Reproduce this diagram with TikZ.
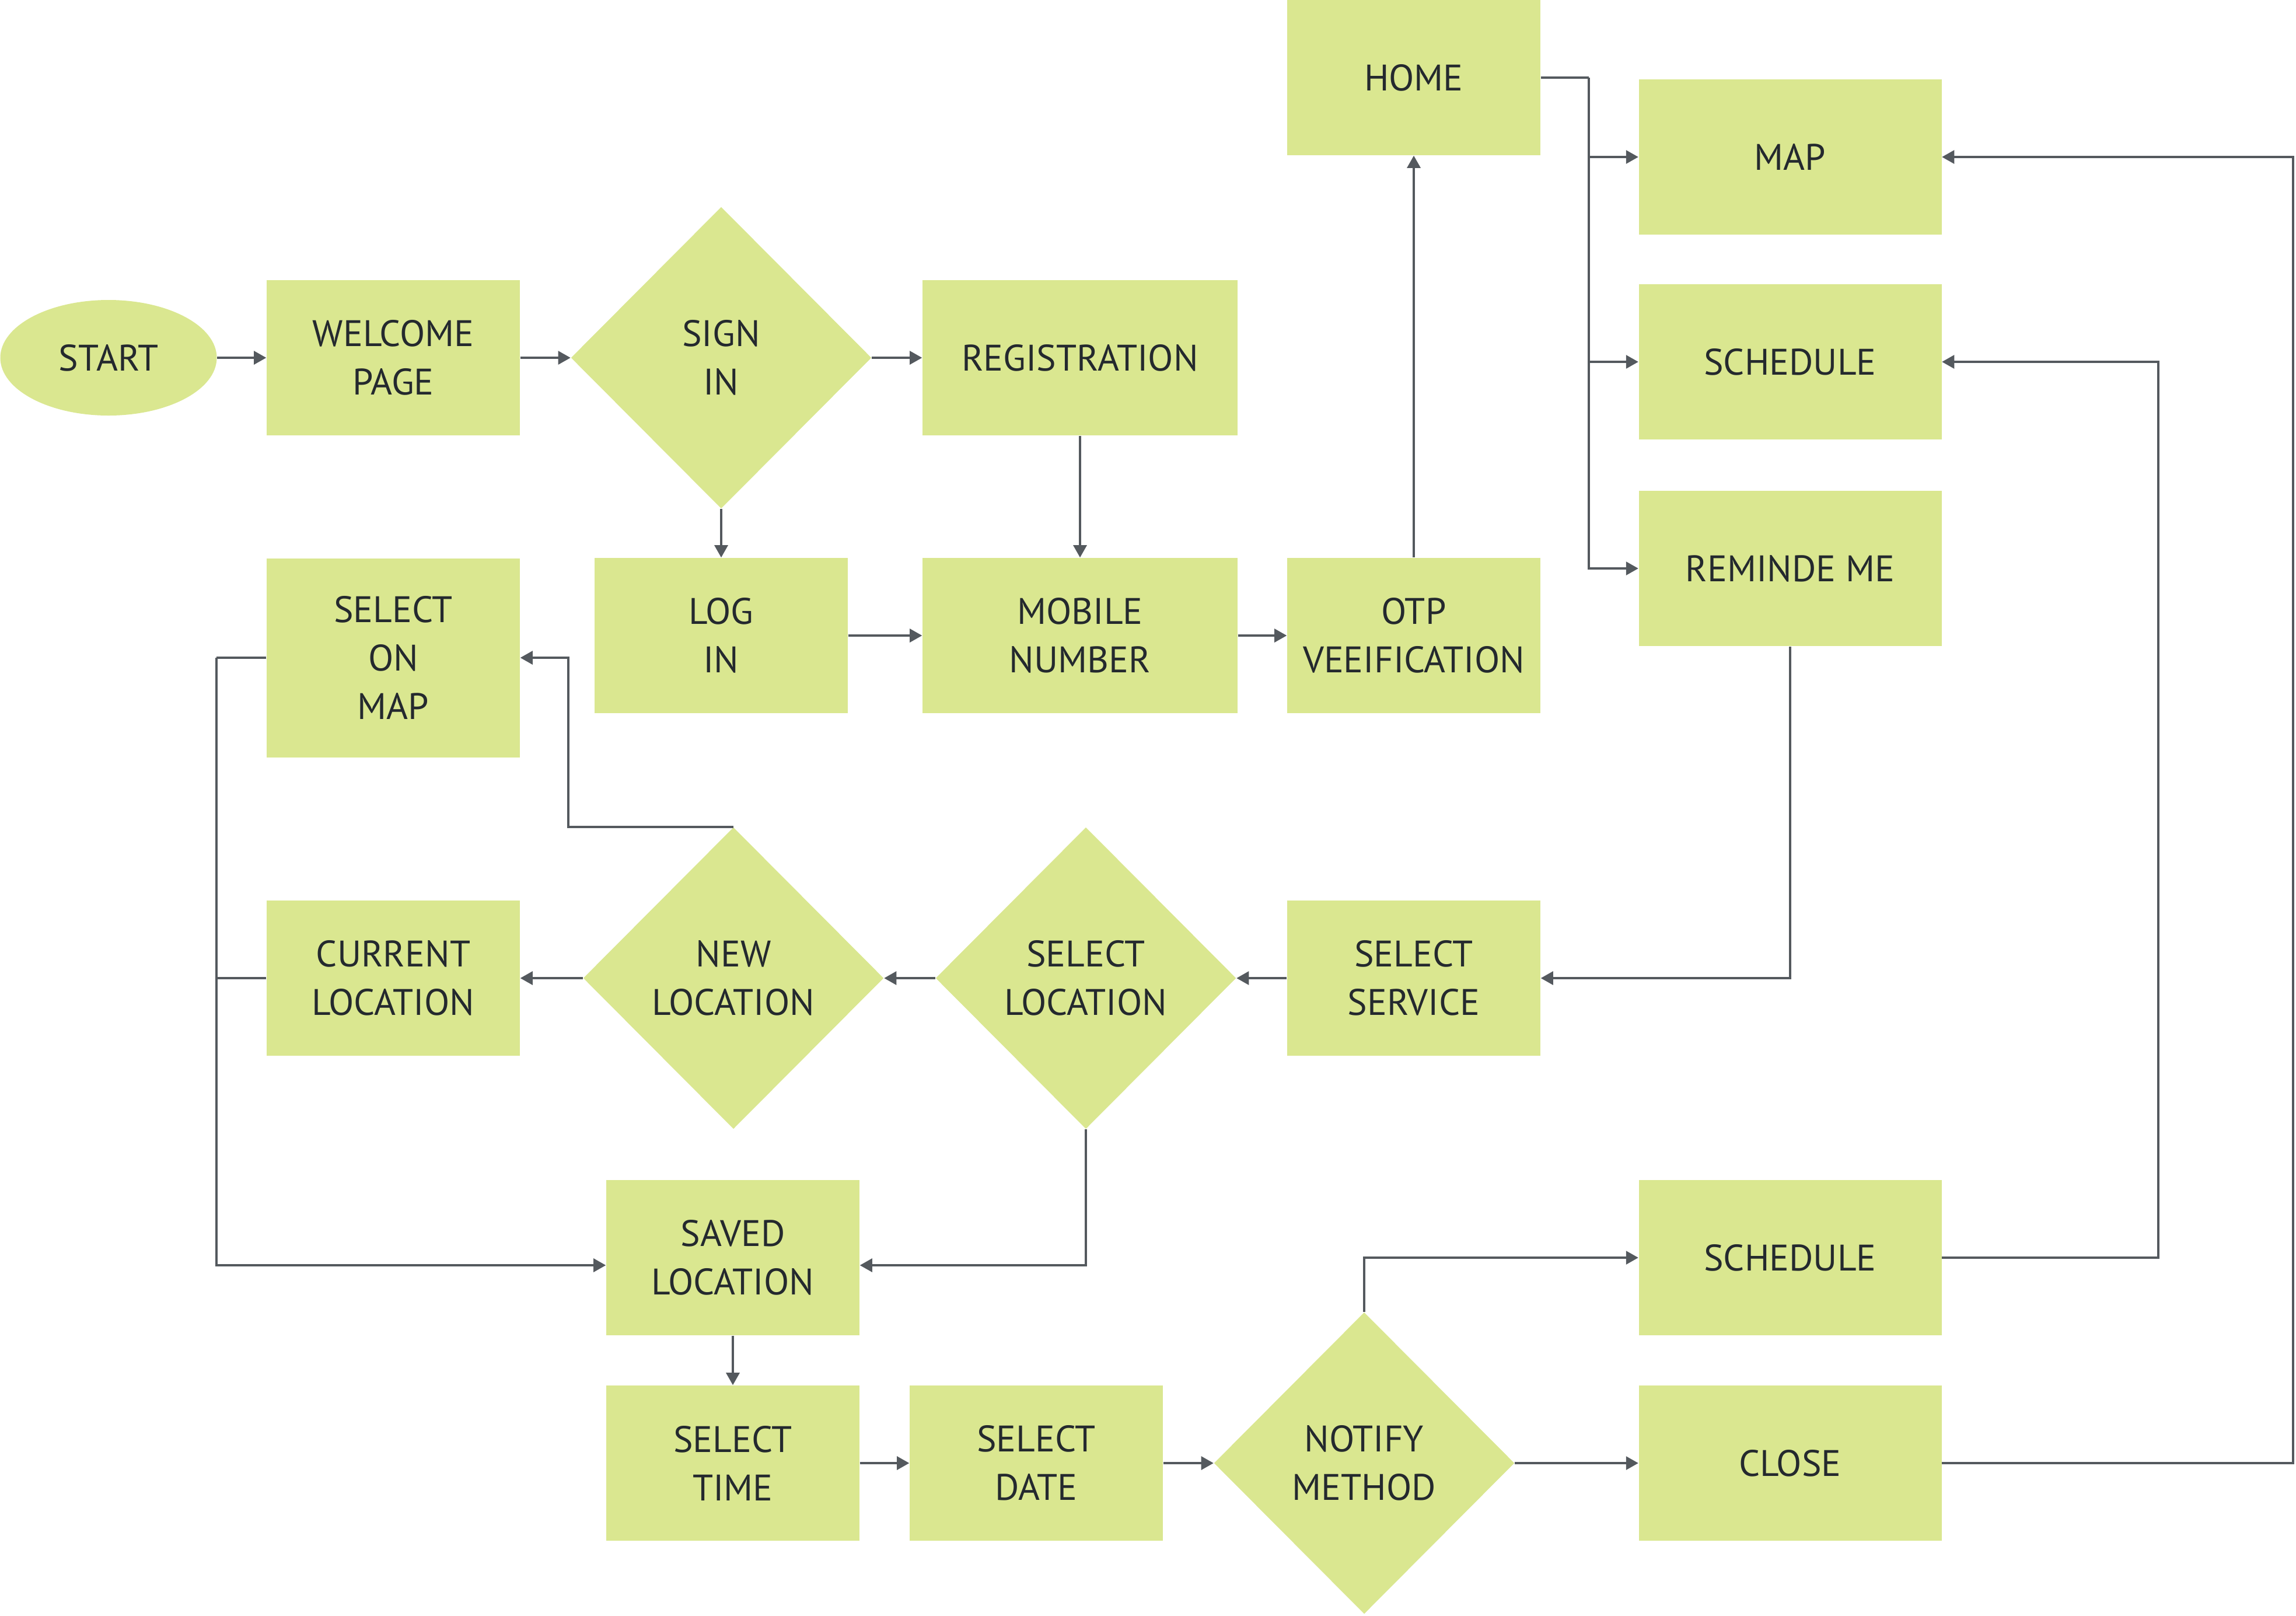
\documentclass[tikz,border=0pt]{standalone}
\usepackage{fontspec}
\setmainfont{PT Sans}
\usetikzlibrary{shapes.geometric, arrows.meta}
\definecolor{colBox}{RGB}{218,231,144}
\definecolor{colLine}{RGB}{84,89,94}
\definecolor{colText}{RGB}{36,41,46}

\begin{document}
\begin{tikzpicture}[
    font=\fontsize{18}{23.6}\selectfont,
    box/.style={fill=colBox, text=colText, align=center, inner sep=0pt,
                minimum width=4.34cm, minimum height=2.66cm},
    widebox/.style={box, minimum width=5.40cm},
    sidebox/.style={box, minimum width=5.19cm},
    decide/.style={diamond, fill=colBox, text=colText, align=center, inner sep=0pt,
                   aspect=1, minimum width=5.15cm, minimum height=5.17cm},
    terminal/.style={ellipse, fill=colBox, text=colText, inner sep=0pt,
                     minimum width=3.71cm, minimum height=1.98cm},
    link/.style={draw=colLine, line width=1pt},
    flow/.style={link, -{Triangle[length=6pt, width=6.5pt]}},
  ]

  \useasboundingbox (0,0) rectangle (39.35,-27.68);

  % ---- sign in / registration row --------------------------------------
  \node[terminal] (start)   at (1.86,-6.13)   {START};
  \node[box]      (welcome) at (6.74,-6.13)   {WELCOME\\PAGE};
  \node[decide]   (signin)  at (12.36,-6.13)  {SIGN\\IN};
  \node[widebox]  (regist)  at (18.51,-6.13)  {REGISTRATION};

  % ---- log in row -------------------------------------------------------
  \node[box, minimum height=3.41cm] (onmap) at (6.74,-11.27) {SELECT\\ON\\MAP};
  \node[box]      (login)   at (12.36,-10.89) {LOG\\IN};
  \node[widebox]  (mobile)  at (18.51,-10.89) {MOBILE\\NUMBER};
  \node[box]      (otp)     at (24.23,-10.89) {OTP\\VEEIFICATION};

  % ---- home and its three pages ----------------------------------------
  \node[box]      (home)    at (24.23,-1.33)  {HOME};
  \node[sidebox]  (map)     at (30.68,-2.69)  {MAP};
  \node[sidebox]  (sched)   at (30.68,-6.20)  {SCHEDULE};
  \node[sidebox]  (remind)  at (30.68,-9.74)  {REMINDE ME};

  % ---- location choice --------------------------------------------------
  \node[box]      (current) at (6.74,-16.76)  {CURRENT\\LOCATION};
  \node[decide]   (newloc)  at (12.57,-16.76) {NEW\\LOCATION};
  \node[decide]   (selloc)  at (18.61,-16.76) {SELECT\\LOCATION};
  \node[box]      (service) at (24.23,-16.76) {SELECT\\SERVICE};
  \node[box]      (saved)   at (12.56,-21.55) {SAVED\\LOCATION};

  % ---- time, date and notification -------------------------------------
  \node[box]      (seltime) at (12.56,-25.07) {SELECT\\TIME};
  \node[box]      (seldate) at (17.76,-25.07) {SELECT\\DATE};
  \node[decide]   (notify)  at (23.38,-25.07) {NOTIFY\\METHOD};
  \node[sidebox]  (schedB)  at (30.68,-21.55) {SCHEDULE};
  \node[sidebox]  (close)   at (30.68,-25.07) {CLOSE};

  % ---- bends of the long connectors -------------------------------------
  \coordinate (homebus) at (27.23,-1.33);
  \coordinate (leftbus) at (3.71,0);
  \coordinate (mapbend) at (9.74,0);
  \coordinate (loopA)   at (36.99,0);
  \coordinate (loopB)   at (39.30,0);
  \coordinate (savedL)  at ([yshift=-0.13cm]saved.west);
  \coordinate (savedR)  at ([yshift=-0.13cm]saved.east);

  % ---- connectors -------------------------------------------------------
  \draw[flow] (start) -- (welcome);
  \draw[flow] (welcome) -- (signin);
  \draw[flow] (signin) -- (regist);
  \draw[flow] (signin) -- (login);
  \draw[flow] (regist) -- (mobile);
  \draw[flow] (login) -- (mobile);
  \draw[flow] (mobile) -- (otp);
  \draw[flow] (otp) -- (home);

  \draw[link] (home.east) -- (homebus);
  \draw[flow] (homebus) |- (map.west);
  \draw[flow] (homebus) |- (sched.west);
  \draw[flow] (homebus) |- (remind.west);

  \draw[flow] (remind.south) |- (service.east);
  \draw[flow] (service) -- (selloc);
  \draw[flow] (selloc) -- (newloc);
  \draw[flow] (newloc) -- (current);
  \draw[flow] (newloc.north) -- (newloc.north -| mapbend) |- (onmap.east);
  \draw[flow] (selloc.south) |- (savedR);

  \draw[link] (onmap.west) -- (onmap.west -| leftbus);
  \draw[link] (current.west) -- (current.west -| leftbus);
  \draw[flow] (onmap.west -| leftbus) |- (savedL);

  \draw[flow] (saved) -- (seltime);
  \draw[flow] (seltime) -- (seldate);
  \draw[flow] (seldate) -- (notify);
  \draw[flow] (notify.north) |- (schedB.west);
  \draw[flow] (notify) -- (close);

  \draw[flow] (schedB.east) -- (schedB.east -| loopA) |- (sched.east);
  \draw[flow] (close.east) -- (close.east -| loopB) |- (map.east);

\end{tikzpicture}
\end{document}
